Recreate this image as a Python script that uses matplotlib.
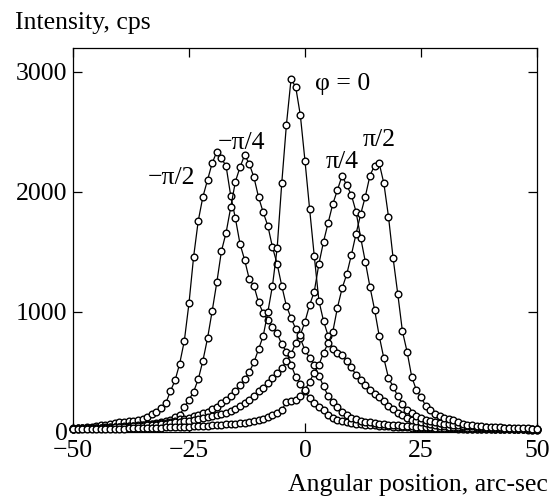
import numpy as np
import matplotlib
matplotlib.use("Agg")
import matplotlib.pyplot as plt

plt.rcParams['font.family'] = ['Liberation Serif', 'DejaVu Serif']
plt.rcParams['font.size'] = 18.5

# scan angles (arc-sec), same grid for all five rocking curves
angle = np.arange(-50, 51, 1)

# phase -pi/2
I_m2 = [30, 32, 36, 40, 45, 50, 56, 62, 68, 74,
        80, 86, 90, 95, 100, 108, 128, 150, 170, 200,
        240, 340, 430, 570, 760, 1072, 1460, 1760, 1960, 2100,
        2240, 2336, 2280, 2215, 1967, 1781, 1567, 1433, 1272, 1217,
        1080, 989, 930, 878, 822, 730, 670, 560, 460, 400,
        340, 285, 240, 210, 180, 140, 115, 100, 90, 82,
        75, 70, 65, 62, 58, 55, 52, 49, 46, 44,
        42, 40, 38, 37, 36, 35, 34, 33, 32, 31,
        30, 29, 29, 28, 27, 27, 26, 26, 25, 25,
        25, 24, 24, 23, 23, 22, 22, 21, 21, 20, 20]

# phase -pi/4
I_m1 = [25, 27, 29, 31, 33, 35, 37, 39, 41, 43,
        45, 47, 50, 53, 56, 60, 64, 70, 76, 84,
        92, 100, 128, 142, 206, 267, 336, 439, 594, 781,
        1008, 1247, 1508, 1661, 1872, 2086, 2206, 2308, 2233, 2122,
        1956, 1830, 1717, 1539, 1400, 1217, 1050, 950, 860, 780,
        680, 620, 560, 470, 380, 300, 250, 205, 165, 140,
        120, 108, 95, 86, 80, 75, 70, 66, 62, 58,
        55, 52, 50, 47, 45, 43, 40, 38, 36, 34,
        33, 32, 31, 30, 29, 28, 28, 27, 26, 25,
        25, 24, 24, 23, 22, 22, 21, 21, 20, 20, 20]

# phase 0
I_0 = [28, 29, 31, 32, 33, 33, 35, 37, 39, 41,
       42, 44, 46, 49, 52, 55, 60, 65, 70, 75,
       75, 85, 95, 105, 110, 120, 130, 140, 155, 170,
       190, 210, 240, 270, 300, 340, 390, 440, 500, 580,
       690, 800, 1000, 1220, 1530, 2075, 2560, 2940, 2875, 2640,
       2260, 1858, 1467, 1094, 925, 800, 690, 655, 640, 590,
       540, 475, 430, 390, 350, 320, 290, 260, 220, 190,
       160, 140, 120, 100, 90, 80, 72, 65, 58, 52,
       48, 45, 42, 40, 38, 36, 34, 32, 31, 30,
       29, 28, 27, 26, 26, 25, 24, 23, 23, 22, 22]

# phase pi/4
I_p1 = [28, 29, 30, 31, 31, 32, 33, 35, 36, 38,
        40, 42, 44, 46, 48, 52, 55, 58, 62, 66,
        70, 75, 80, 85, 90, 95, 100, 108, 115, 122,
        130, 138, 148, 160, 175, 195, 215, 240, 270, 300,
        340, 370, 410, 450, 489, 531, 590, 650, 740, 808,
        919, 1058, 1169, 1400, 1586, 1744, 1900, 2017, 2136, 2055,
        1975, 1836, 1620, 1420, 1210, 1020, 800, 614, 450, 378,
        300, 235, 180, 155, 135, 115, 100, 88, 80, 74,
        68, 63, 58, 54, 51, 48, 46, 44, 42, 40,
        36, 34, 32, 30, 29, 28, 27, 26, 25, 24, 24]

# phase pi/2
I_p2 = [22, 23, 23, 24, 24, 25, 25, 26, 26, 27,
        28, 28, 29, 30, 31, 32, 33, 34, 35, 36,
        38, 39, 40, 42, 43, 45, 47, 49, 51, 53,
        55, 58, 61, 64, 67, 70, 74, 78, 85, 92,
        100, 110, 125, 142, 160, 183, 250, 262, 270, 300,
        350, 420, 494, 558, 661, 739, 836, 1036, 1197, 1314,
        1475, 1650, 1814, 1961, 2136, 2220, 2239, 2072, 1794, 1447,
        1150, 840, 670, 461, 350, 290, 220, 180, 150, 130,
        115, 108, 100, 80, 65, 58, 54, 50, 48, 45,
        42, 40, 38, 36, 35, 32, 31, 30, 29, 28, 28]

curves = [I_m2, I_m1, I_0, I_p1, I_p2]
labels = ['\u2212\u03c0/2', '\u2212\u03c0/4', '\u03c6 = 0', '\u03c0/4', '\u03c0/2']
label_pos = [(-28.7, 2117), (-13.6, 2408), (8.2, 2900), (8.0, 2250), (15.9, 2433)]

fig = plt.figure(figsize=(5.55, 5.04), dpi=100)
ax = fig.add_axes([0.1315, 0.1429, 0.836, 0.762])

for I in curves:
    ax.plot(angle, I, '-', color='black', lw=0.9, marker='o', ms=4.8,
            mfc='white', mec='black', mew=1.0, clip_on=False, zorder=3)

for text, (x, y) in zip(labels, label_pos):
    ax.text(x, y, text, ha='center', va='center')

ax.set_xlim(-50, 50)
ax.set_ylim(0, 3200)
ax.set_xticks([-50, -25, 0, 25, 50])
ax.set_yticks([0, 1000, 2000, 3000])
ax.tick_params(direction='in', length=6.5, width=0.9, top=True, right=True)
ax.tick_params(axis='x', pad=5.5)
ax.tick_params(axis='y', pad=4)
for s in ax.spines.values():
    s.set_linewidth(0.9)

fig.text(0.027, 0.955, 'Intensity, cps', ha='left', va='center')
fig.text(0.988, 0.038, 'Angular position, arc-sec', ha='right', va='center')

fig.savefig('out.png', dpi=100)
